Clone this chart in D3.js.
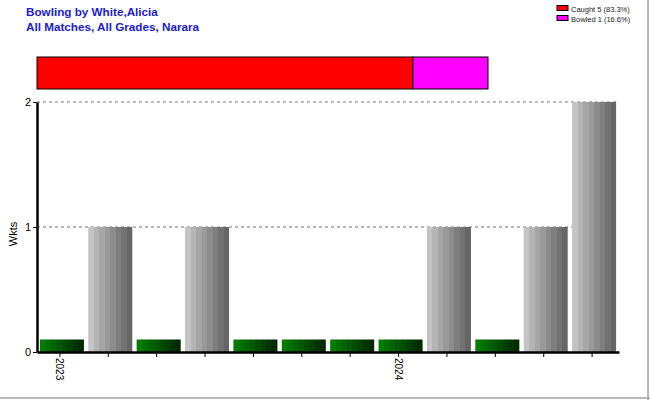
<!DOCTYPE html>
<html>
<head>
<meta charset="utf-8">
<script src="https://cdn.jsdelivr.net/npm/d3@7"></script>
<style>
  body { margin: 0; background: #fff; }
  text { font-family: "Liberation Sans", Arial, sans-serif; }
</style>
</head>
<body>
<div id="chart"></div>
<script>
// match slots in date order, wickets per match
let matches = ["m1","m2","m3","m4","m5","m6","m7","m8","m9","m10","m11","m12"];
let wickets = [0, 1, 0, 1, 0, 0, 0, 0, 1, 0, 1, 2];
let tickLabels = ["2023","","","","","","","2024","","","",""];
let yTicks = [0, 1, 2];

// dismissal breakdown
let dismissTypes = ["Caught", "Bowled"];
let dismissCounts = [5, 1];
let dismissColors = ["#ff0000", "#ff00ff"];

// zero wicket matches still get a small stub
let zeroStub = 0.1;

function getConfig() {
  let width = 650;
  let height = 400;
  let margin = { top: 102, bottom: 48, left: 37, right: 31 };
  let bodyHeight = height - margin.top - margin.bottom;
  let bodyWidth = width - margin.left - margin.right;
  let svg = d3.select("#chart").append("svg")
    .attr("width", width)
    .attr("height", height);
  return { width, height, margin, bodyHeight, bodyWidth, svg };
}

function getScales(config) {
  let { bodyWidth, bodyHeight } = config;
  let xScale = d3.scaleBand()
    .domain(matches)
    .range([0, bodyWidth])
    .paddingInner(0.09)
    .paddingOuter(0.06);
  let yScale = d3.scaleLinear()
    .domain([0, 2])
    .range([bodyHeight, 0]);
  return { xScale, yScale };
}

function addGradients(svg) {
  let defs = svg.append("defs");
  // striped look: stepped gradient left to right
  let makeGrad = (id, colors) => {
    let g = defs.append("linearGradient").attr("id", id)
      .attr("x1", "0%").attr("x2", "100%").attr("y1", "0%").attr("y2", "0%");
    let n = colors.length;
    colors.forEach((c, i) => {
      g.append("stop").attr("offset", (i / n * 100) + "%").attr("stop-color", c);
      g.append("stop").attr("offset", ((i + 1) / n * 100) + "%").attr("stop-color", c);
    });
  };
  makeGrad("greyGrad", ["#c4c4c4", "#b4b4b4", "#a6a6a6", "#999999", "#8c8c8c", "#7e7e7e", "#727272", "#666666"]);
  makeGrad("greenGrad", ["#007d00", "#007000", "#006400", "#005800", "#004c00", "#004000", "#003400", "#002a00"]);
}

function drawChart() {
  let config = getConfig();
  let { svg, margin, bodyWidth, bodyHeight, width, height } = config;
  let { xScale, yScale } = getScales(config);

  addGradients(svg);

  // outer frame (right / bottom)
  svg.append("line").attr("x1", width - 2).attr("x2", width - 2).attr("y1", 0).attr("y2", height)
    .attr("stroke", "#a0a0a0").attr("stroke-width", 1.5);
  svg.append("line").attr("x1", 0).attr("x2", width).attr("y1", height - 2).attr("y2", height - 2)
    .attr("stroke", "#a0a0a0").attr("stroke-width", 1.5);

  // titles
  svg.append("text").attr("x", 26).attr("y", 16)
    .attr("fill", "#1c1ccc").attr("font-weight", "bold").attr("font-size", 11.7)
    .text("Bowling by White,Alicia");
  svg.append("text").attr("x", 26).attr("y", 31)
    .attr("fill", "#1c1ccc").attr("font-weight", "bold").attr("font-size", 11.7)
    .text("All Matches, All Grades, Narara");

  // legend (percent truncated to one decimal, as in the source)
  let total = d3.sum(dismissCounts);
  let pct = c => (Math.floor(c / total * 1000) / 10).toFixed(1);
  let legend = svg.append("g").attr("transform", "translate(557,5)");
  dismissTypes.forEach((t, i) => {
    legend.append("rect").attr("x", 0).attr("y", i * 10 + 0.5)
      .attr("width", 11).attr("height", 5)
      .attr("fill", dismissColors[i]).attr("stroke", "#000").attr("stroke-width", 1);
    legend.append("text").attr("x", 14).attr("y", i * 10 + 6.5)
      .attr("font-size", 7.5).attr("fill", "#222")
      .text(t + " " + dismissCounts[i] + " (" + pct(dismissCounts[i]) + "%)");
  });

  // stacked proportion bar
  let stackScale = d3.scaleLinear().domain([0, total]).range([37, 488]);
  let cum = 0;
  dismissCounts.forEach((c, i) => {
    svg.append("rect")
      .attr("x", stackScale(cum)).attr("y", 57)
      .attr("width", stackScale(cum + c) - stackScale(cum)).attr("height", 32)
      .attr("fill", dismissColors[i]).attr("stroke", "#000").attr("stroke-width", 1);
    cum += c;
  });

  let body = svg.append("g").attr("transform", "translate(" + margin.left + "," + margin.top + ")");

  // dashed grid
  body.selectAll(".grid").data(yTicks.filter(d => d > 0)).enter().append("line")
    .attr("class", "grid")
    .attr("x1", 0).attr("x2", bodyWidth)
    .attr("y1", d => yScale(d)).attr("y2", d => yScale(d))
    .attr("stroke", "#777").attr("stroke-dasharray", "3,3");

  // bars
  body.selectAll(".bar").data(wickets).enter().append("rect")
    .attr("class", "bar")
    .attr("x", (d, i) => xScale(matches[i]))
    .attr("width", xScale.bandwidth())
    .attr("y", d => yScale(d > 0 ? d : zeroStub))
    .attr("height", d => bodyHeight - yScale(d > 0 ? d : zeroStub))
    .attr("fill", d => d > 0 ? "url(#greyGrad)" : "url(#greenGrad)");

  // y axis
  let yAxis = body.append("g")
    .call(d3.axisLeft(yScale).tickValues(yTicks).tickFormat(d3.format("d")).tickSize(4).tickSizeOuter(0));
  yAxis.select(".domain").attr("stroke-width", 2.5);
  yAxis.selectAll("text").attr("font-size", 11).attr("font-family", "Liberation Sans, Arial, sans-serif").attr("dx", "1");

  // x axis
  let xAxis = body.append("g")
    .attr("transform", "translate(0," + bodyHeight + ")")
    .call(d3.axisBottom(xScale).tickFormat((d, i) => tickLabels[i]).tickSize(5).tickSizeOuter(0));
  xAxis.select(".domain").attr("stroke-width", 2.5);
  xAxis.selectAll(".tick").attr("transform", d => "translate(" + (xScale(d) + xScale.bandwidth() / 2 - 2) + ",0)");
  xAxis.selectAll("text")
    .attr("font-size", 10).attr("font-family", "Liberation Sans, Arial, sans-serif")
    .attr("transform", "rotate(90)")
    .attr("x", 6).attr("y", 0).attr("dy", "0.35em")
    .style("text-anchor", "start");

  // y label
  svg.append("text")
    .attr("transform", "translate(17," + (margin.top + bodyHeight / 2 + 7) + ")rotate(-90)")
    .attr("text-anchor", "middle").attr("font-size", 11)
    .text("Wkts");
}

drawChart();
</script>
</body>
</html>
